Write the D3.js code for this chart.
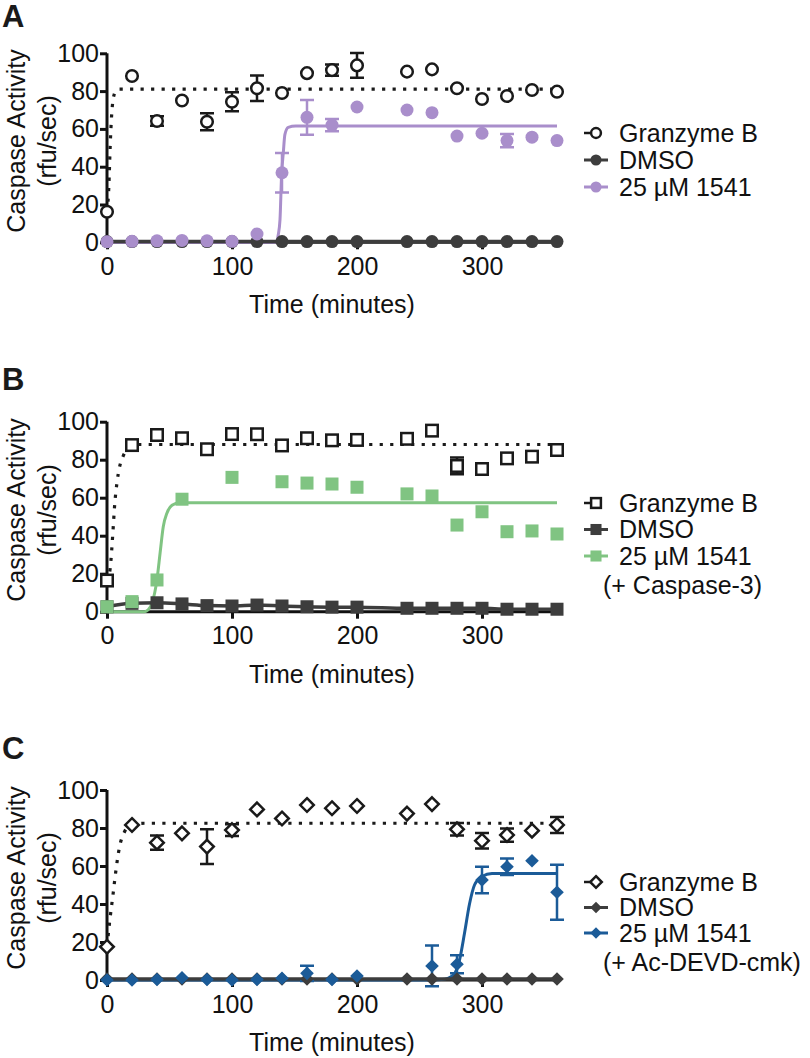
<!DOCTYPE html>
<html><head><meta charset="utf-8">
<script src="https://cdn.jsdelivr.net/npm/d3@7"></script>
<style>body{margin:0;background:#fff}svg{display:block}text{font-family:"Liberation Sans",Arial,Helvetica,sans-serif}</style>
</head><body><svg id="c" width="810" height="1058"></svg>
<script>
// ---------- data (time in minutes) ----------
const times = [0,20,40,60,80,100,120,140,160,180,200,240,260,280,300,320,340,360];
const xTicks = [0,100,200,300];
const yTicks = [0,20,40,60,80,100];
const legendNames = ["Granzyme B","DMSO","25 µM 1541"];

// Panel A
const aGzB     = [16.2,88,64.2,75,63.8,74.4,81.5,79,89.5,91.1,93.6,90.3,91.5,81.5,75.8,77.4,80.6,79.7];
const aGzBErr  = [0,0,2.5,0,4.5,5,6.8,0,0,3,6.6,0,0,0,0,0,0,0];
const aDmso    = [0.4,0.4,0.4,0.4,0.4,0.4,0.4,0.4,0.4,0.4,0.4,0.4,0.4,0.4,0.4,0.4,0.4,0.4];
const a1541    = [0.3,0.5,0.8,1,0.8,0.5,4.4,36.8,66.1,62,71.6,70,68.6,56.2,57.7,53.8,55.6,53.8];
const a1541Err = [0,0,0,0,0,0,0,10.4,9.2,3.3,0,0,0,0,0,3.5,0,0];
const aGzBFitX = [0,1.5,2.5,3.5,5,7,10,360];
const aGzBFitY = [16,30,50,65,76,80,81,81];
const a1541FitX = [0,134,135.7,137,138.4,139.7,141,142.3,145,151,360];
const a1541FitY = [0,0,0.5,4,12,36,47,57,60.8,61.5,61.5];

// Panel B
const bGzB     = [16.4,87.7,93,91.3,85.5,93.5,93.4,87.5,91.3,90.2,90.4,91,95.3,76.7,75.1,80.7,81.6,85.1];
const bGzBErr  = [0,1.5,0,1.5,2.5,0,0,0,0,0,0,0,2.2,4.4,0,0,0,0];
const bDmso    = [2.6,4.4,4.7,4.1,3.2,3,3.5,3,2.6,2.4,2.4,1.8,1.8,1.8,1.8,1.3,1.3,1.3];
const b1541    = [2.6,5.3,16.7,59.2,null,70.7,null,68.4,67.7,67.2,65.5,62,60.9,45.6,52.6,42.1,42.5,40.9];
const b1541Err = [0,0,0,0,0,0,0,0,0,0,0,0,0,0,0,0,0,0];
const bGzBFitX = [0,2.4,5,6,8,10,13,15.5,20,25,360];
const bGzBFitY = [16,22,44.7,55,68,76,82,85,87.3,88,88];
const b1541FitX = [0,30,33,36,40,42.5,45,48,52,58,360];
const b1541FitY = [0,0,1,4.5,17,31,44.7,52,56,57.4,57.4];

// Panel C
const cGzB     = [17.5,81.6,72.3,77.2,70.2,78.9,89.8,85,92.1,90.4,91.6,87.6,92.6,79.3,73.3,76.3,78.6,81.6];
const cGzBErr  = [0,0,3.7,0,9.2,3.1,0,0,0,0,0,0,0,3.3,4.1,3.5,0,4.2];
const cDmso    = [0.5,0.5,0.5,0.5,0.5,0.5,0.5,0.5,0.5,0.5,0.5,0.5,0.5,0.5,0.5,0.5,0.5,0.5];
const c1541    = [0,0,0.3,1.2,0.3,0,0.3,0.9,3.5,0.3,2.1,null,7.4,8.3,52.6,59.6,62.8,46.2];
const c1541Err = [0,0,0,0,0,0,0,0,4,0,0,0,10.7,4.7,7,4.4,0,14.5];
const cGzBFitX = [0,2,5,7,10,14,18,24,30,360];
const cGzBFitY = [17.5,30,46,57,70,78,81,82.2,82.5,82.5];
const c1541FitX = [0,250,268,277,282,286,290,294,300,308,360];
const c1541FitY = [0,0,0.3,2.6,10.5,24.6,40,50,54.5,56,56.1];

// ---------- layout ----------
const FONT = 25;
const GZ_COL = "#1a1a1a", DMSO_COL = "#3d3d3d";
const panels = [
  {letter:"A", letterY:27, y0:242.3, y100:53.3, shape:"circle", color:"#a98ecb",
   gz:aGzB, gzErr:aGzBErr, gzFit:[aGzBFitX,aGzBFitY], dmso:aDmso, cmp:a1541, cmpErr:a1541Err,
   cmpFit:[a1541FitX,a1541FitY], legendY:[133,160,187], extra:null, titleY:141},
  {letter:"B", letterY:390, y0:611.7, y100:421.7, shape:"square", color:"#80c482",
   gz:bGzB, gzErr:bGzBErr, gzFit:[bGzBFitX,bGzBFitY], dmso:bDmso, cmp:b1541, cmpErr:b1541Err,
   cmpFit:[b1541FitX,b1541FitY], legendY:[503,529.5,556], extra:"(+ Caspase-3)", extraY:585, titleY:510},
  {letter:"C", letterY:759, y0:980, y100:790, shape:"diamond", color:"#1b5b98",
   gz:cGzB, gzErr:cGzBErr, gzFit:[cGzBFitX,cGzBFitY], dmso:cDmso, cmp:c1541, cmpErr:c1541Err,
   cmpFit:[c1541FitX,c1541FitY], legendY:[882,907.5,933], extra:"(+ Ac-DEVD-cmk)", extraY:962, titleY:878}
];

const svg = d3.select("#c");
const x = d3.scaleLinear().domain([0,360]).range([107,557]);

function marker(g, shape, cx, cy, open, color, scale=1) {
  const sw = 2.5;
  if (shape === "circle") {
    const r = (open ? 5.8 : 6.5) * scale;
    g.append("circle").attr("cx",cx).attr("cy",cy).attr("r",r)
      .attr("fill", open ? "#fff" : color).attr("stroke", open ? color : "none").attr("stroke-width", sw);
  } else if (shape === "square") {
    const s = (open ? 11.5 : 13) * scale;
    g.append("rect").attr("x",cx-s/2).attr("y",cy-s/2).attr("width",s).attr("height",s)
      .attr("fill", open ? "#fff" : color).attr("stroke", open ? color : "none").attr("stroke-width", sw);
  } else {
    const h = 6.8 * scale;
    g.append("path").attr("d",`M${cx},${cy-h}L${cx+h},${cy}L${cx},${cy+h}L${cx-h},${cy}Z`)
      .attr("fill", open ? "#fff" : color).attr("stroke", open ? color : "none").attr("stroke-width", sw);
  }
}

panels.forEach(p => {
  const y = d3.scaleLinear().domain([0,100]).range([p.y0, p.y100]);
  const g = svg.append("g");

  // panel letter
  g.append("text").attr("x",2).attr("y",p.letterY).attr("font-size",31).attr("font-weight","bold")
    .attr("fill","#1a1a1a").text(p.letter);

  // axes
  const ya = g.append("g").attr("transform","translate(107,0)")
    .call(d3.axisLeft(y).tickValues(yTicks).tickSize(7).tickSizeOuter(0).tickPadding(1));
  const xa = g.append("g").attr("transform",`translate(0,${p.y0})`)
    .call(d3.axisBottom(x).tickValues(xTicks).tickSize(7).tickSizeOuter(0).tickPadding(8));
  [ya, xa].forEach(a => {
    a.attr("font-family",null).attr("font-size",null);
    a.select(".domain").attr("stroke","#111").attr("stroke-width",3);
    a.selectAll(".tick line").attr("stroke","#111").attr("stroke-width",3);
    a.selectAll(".tick text").attr("font-size",FONT).attr("fill","#111");
  });
  ya.select(".domain").attr("d",`M0,${p.y0+1.5}V${p.y100}`);
  xa.select(".domain").attr("d",`M${x(0)},0H${x(360)}`);

  // axis titles
  g.append("text").attr("transform",`translate(25,${p.titleY}) rotate(-90)`).attr("text-anchor","middle")
    .attr("font-size",FONT).attr("fill","#111").text("Caspase Activity");
  g.append("text").attr("transform",`translate(56,${p.titleY}) rotate(-90)`).attr("text-anchor","middle")
    .attr("font-size",FONT).attr("fill","#111").text("(rfu/sec)");
  g.append("text").attr("x",x(180)).attr("y",p.y0+71).attr("text-anchor","middle")
    .attr("font-size",FONT).attr("fill","#111").text("Time (minutes)");

  const line = d3.line().curve(d3.curveMonotoneX);

  // fits
  g.append("path").attr("d", line(p.gzFit[0].map((t,i)=>[x(t), y(p.gzFit[1][i])])))
    .attr("fill","none").attr("stroke",GZ_COL).attr("stroke-width",3.2).attr("stroke-dasharray","3.2,7.3");
  g.append("path").attr("d", line(p.cmpFit[0].map((t,i)=>[x(t), y(p.cmpFit[1][i])])))
    .attr("fill","none").attr("stroke",p.color).attr("stroke-width",3);
  g.append("path").attr("d", line(times.map((t,i)=>[x(t), y(p.dmso[i])])))
    .attr("fill","none").attr("stroke",DMSO_COL).attr("stroke-width",3.5);

  // error bars
  function errBars(vals, errs, color) {
    vals.forEach((v,i) => {
      if (v == null || !errs[i]) return;
      const cx = x(times[i]), top = y(v+errs[i]), bot = y(v-errs[i]);
      g.append("path").attr("d",`M${cx},${top}V${bot}M${cx-7},${top}H${cx+7}M${cx-7},${bot}H${cx+7}`)
        .attr("fill","none").attr("stroke",color).attr("stroke-width",2.5);
    });
  }
  errBars(p.gz, p.gzErr, GZ_COL);
  errBars(p.cmp, p.cmpErr, p.color);

  // markers
  p.gz.forEach((v,i) => marker(g, p.shape, x(times[i]), y(v), true, GZ_COL));
  p.dmso.forEach((v,i) => marker(g, p.shape, x(times[i]), y(v), false, DMSO_COL));
  p.cmp.forEach((v,i) => { if (v != null) marker(g, p.shape, x(times[i]), y(v), false, p.color); });

  // legend
  const lx0 = 584, lx1 = 608, lm = 596, tx = 619;
  const lg = g.append("g");
  lg.append("line").attr("x1",lx0).attr("x2",590).attr("y1",p.legendY[0]).attr("y2",p.legendY[0])
    .attr("stroke",GZ_COL).attr("stroke-width",2.5);
  marker(lg, p.shape, lm, p.legendY[0], true, GZ_COL, 0.85);
  lg.append("line").attr("x1",lx0).attr("x2",lx1).attr("y1",p.legendY[1]).attr("y2",p.legendY[1])
    .attr("stroke",DMSO_COL).attr("stroke-width",3);
  marker(lg, p.shape, lm, p.legendY[1], false, DMSO_COL, 0.85);
  lg.append("line").attr("x1",lx0).attr("x2",lx1).attr("y1",p.legendY[2]).attr("y2",p.legendY[2])
    .attr("stroke",p.color).attr("stroke-width",3);
  marker(lg, p.shape, lm, p.legendY[2], false, p.color, 0.85);
  legendNames.forEach((name,i) => {
    lg.append("text").attr("x",tx).attr("y",p.legendY[i]+8.8).attr("font-size",FONT).attr("fill","#111").text(name);
  });
  if (p.extra) {
    lg.append("text").attr("x",603).attr("y",p.extraY+8.8).attr("font-size",FONT).attr("fill","#111").text(p.extra);
  }
});
</script></body></html>
